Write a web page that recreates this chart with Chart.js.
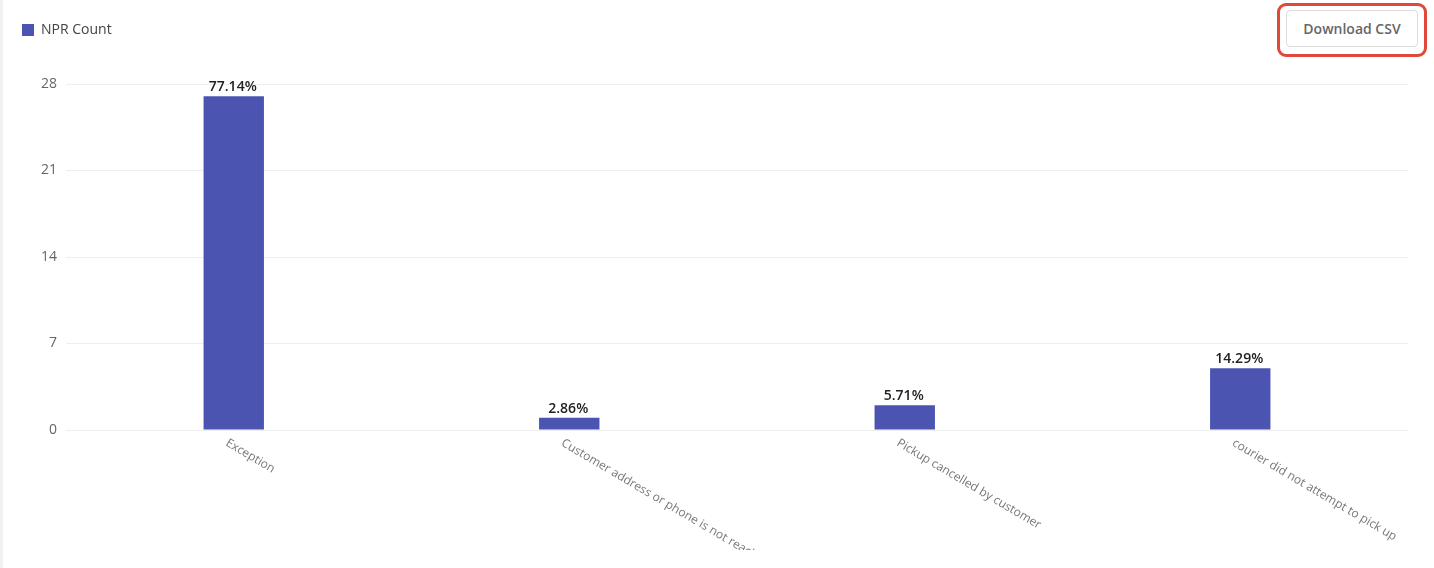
<!DOCTYPE html>
<html>
<head>
<meta charset="utf-8">
<script src="https://cdn.jsdelivr.net/npm/chart.js@4/dist/chart.umd.min.js"></script>
<style>
  html, body { margin: 0; padding: 0; background: #fff; }
  body { width: 1434px; height: 568px; position: relative; overflow: hidden; font-family: "Open Sans", sans-serif; }
  .edge { position: absolute; left: 0; top: 0; width: 3px; height: 568px; background: #f1f1f1; }
  .wrap { position: absolute; left: 0; top: 0; width: 1434px; height: 550px; }
  .mark { position: absolute; left: 1277px; top: 3px; width: 144px; height: 48px; border: 3px solid #e0483a; border-radius: 9px; }
  .btn { position: absolute; left: 1286px; top: 10px; width: 132px; height: 37px; box-sizing: border-box;
         border: 1px solid #dcdcdc; border-radius: 4px; background: #fff; color: #666;
         font: 600 14px "Open Sans", sans-serif; line-height: 35px; text-align: center; }
</style>
</head>
<body>
<div class="edge"></div>
<div class="wrap"><canvas id="bar"></canvas></div>
<div class="mark"></div>
<div class="btn">Download CSV</div>
<script>
/* datos del grafico */
const reasons = ['Exception', 'Customer address or phone is not reachable', 'Pickup cancelled by customer', 'courier did not attempt to pick up'];
const nprCount = [27, 1, 2, 5];
const yTicks = [0, 7, 14, 21, 28];

const barColor = '#4B55B1';
const total = nprCount.reduce((a, b) => a + b, 0);

// espacio extra debajo de la leyenda
const legendGap = {
  id: 'legendGap',
  beforeInit(chart) {
    const fit = chart.legend.fit;
    chart.legend.fit = function () {
      fit.bind(chart.legend)();
      this.height += 37;
    };
  }
};

// porcentajes encima de cada barra
const barLabels = {
  id: 'barLabels',
  afterDatasetsDraw(chart) {
    const ctx = chart.ctx;
    const meta = chart.getDatasetMeta(0);
    ctx.save();
    ctx.font = '600 14px "Open Sans"';
    ctx.fillStyle = '#222';
    ctx.textAlign = 'center';
    ctx.textBaseline = 'bottom';
    meta.data.forEach((bar, i) => {
      const pct = (nprCount[i] / total * 100).toFixed(2) + '%';
      ctx.fillText(pct, bar.x - 1, bar.y - 2);
    });
    ctx.restore();
  }
};

// etiquetas del eje x giradas hacia abajo a la derecha
const slantLabels = {
  id: 'slantLabels',
  afterDraw(chart) {
    const ctx = chart.ctx;
    const xs = chart.scales.x;
    ctx.save();
    ctx.font = '12px "Open Sans"';
    ctx.fillStyle = '#777';
    ctx.textAlign = 'left';
    ctx.textBaseline = 'top';
    xs.ticks.forEach((t, i) => {
      const x = xs.getPixelForTick(i);
      ctx.save();
      ctx.translate(x - 4, xs.top + 7);
      ctx.rotate(30.5 * Math.PI / 180);
      ctx.fillText(reasons[i], 0, 0);
      ctx.restore();
    });
    ctx.restore();
  }
};

const barConfig = {
  type: 'bar',
  data: {
    labels: reasons,
    datasets: [
      {
        label: 'NPR Count',
        data: nprCount,
        backgroundColor: barColor,
        borderWidth: 0,
        barPercentage: 0.18,
        categoryPercentage: 1.0,
      },
    ],
  },
  options: {
    responsive: true,
    maintainAspectRatio: false,
    animation: false,
    layout: { padding: { top: 13, left: 12, right: 26, bottom: 0 } },
    plugins: {
      legend: {
        position: 'top',
        align: 'start',
        labels: {
          boxWidth: 12,
          boxHeight: 12,
          padding: 10,
          color: '#444',
          font: { family: 'Open Sans', size: 14 },
        },
      },
      tooltip: { enabled: false },
    },
    scales: {
      x: {
        grid: { display: false },
        border: { display: false },
        ticks: { display: false },
        afterFit(scale) { scale.height = 120; },
      },
      y: {
        min: 0,
        max: 28,
        afterBuildTicks(scale) { scale.ticks = yTicks.map(v => ({ value: v })); },
        grid: { color: '#eeeeee', drawTicks: false },
        border: { display: false },
        ticks: {
          padding: 9,
          color: '#666',
          font: { family: 'Open Sans', size: 14 },
        },
        afterFit(scale) { scale.width = 54; },
      },
    },
  },
  plugins: [legendGap, barLabels, slantLabels],
};

const barCtx = document.getElementById('bar');
window.myBar = new Chart(barCtx, barConfig);
</script>
</body>
</html>
